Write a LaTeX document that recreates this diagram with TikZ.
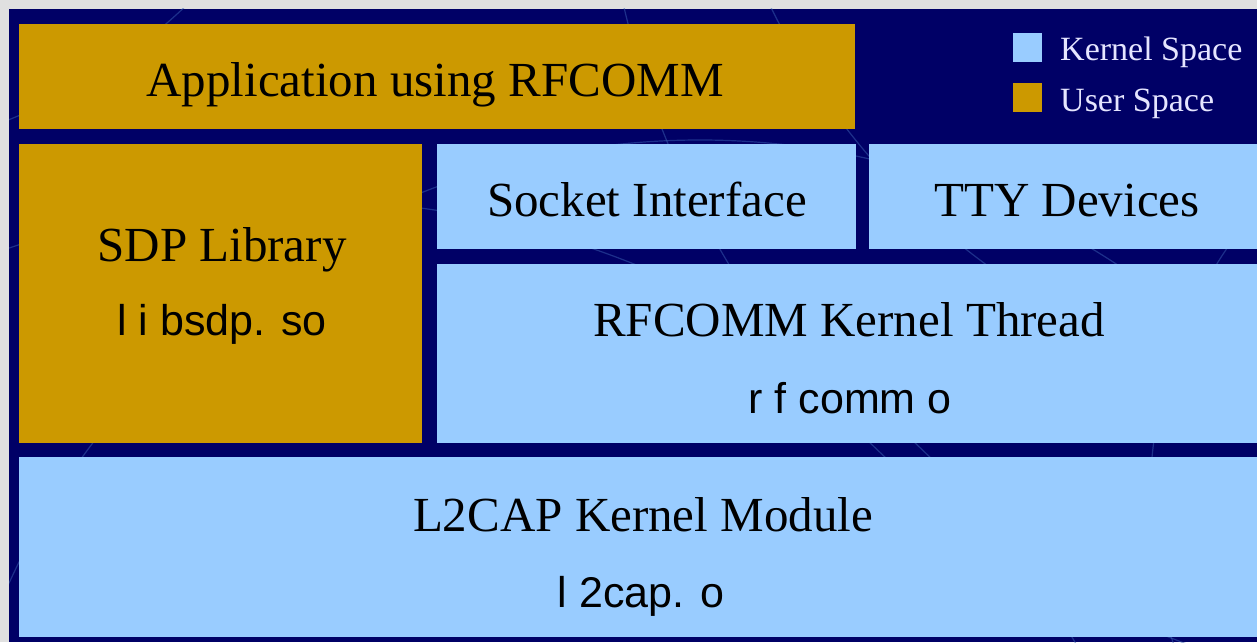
\documentclass[tikz,border=0pt]{standalone}
\usepackage{fontspec}
\setmainfont{Liberation Serif}
\newfontfamily\monof{Liberation Sans}
\definecolor{navy}{HTML}{000066}
\definecolor{gold}{HTML}{CC9900}
\definecolor{kblue}{HTML}{99CCFF}
\definecolor{pagegray}{HTML}{E0E0E0}
\definecolor{arcblue}{HTML}{3A5FB0}
\tikzset{
  layerbox/.style={inner sep=0pt, outer sep=0pt},
  userbox/.style={fill=gold},
  kernbox/.style={fill=kblue},
  title/.style={font=\fontsize{49}{58}\selectfont, text=black, anchor=base, inner sep=0pt},
  fname/.style={font=\monof\fontsize{43}{52}\selectfont, text=black, anchor=base, inner sep=0pt},
  legtext/.style={font=\fontsize{34}{40}\selectfont, text=white!90!blue, anchor=base west, inner sep=0pt},
  deco/.style={draw=arcblue, line width=1.2pt, opacity=0.5}
}
\begin{document}
\begin{tikzpicture}[x=1pt,y=-1pt]
\useasboundingbox (0,0) rectangle (1257,642);
\fill[pagegray] (0,0) rectangle (1257,642);
\fill[navy] (9,9) rectangle (1257,642);
\begin{scope}
\clip (9,9) rectangle (1257,642);
\draw[deco] (1400,-300) circle (700);
\draw[deco] (1500,-200) circle (900);
\draw[deco] (-200,-400) circle (560);
\draw[deco] (700,900) circle (760);
\draw[deco] (300,1100) circle (900);
\draw[deco] (1600,500) circle (450);
\end{scope}
% boxes
\path[userbox] (19,24) rectangle (855,129);
\node[layerbox] (app) at (437,76) {};
\path[userbox] (19,144) rectangle (422,443);
\node[layerbox] (sdp) at (220,293) {};
\path[kernbox] (437,144) rectangle (856,249);
\node[layerbox] (sock) at (646,196) {};
\path[kernbox] (869,144) rectangle (1257,249);
\node[layerbox] (tty) at (1063,196) {};
\path[kernbox] (437,264) rectangle (1257,443);
\node[layerbox] (rfc) at (847,353) {};
\path[kernbox] (19,457) rectangle (1257,637);
\node[layerbox] (l2) at (638,547) {};
% texts
\node[title] (appT) at (435,96) {Application using RFCOMM};
\node[title] (sdpT) at (222,261) {SDP Library};
\node[fname] (sdpF) at (222,335) {l i bsdp. so};
\node[title] (sockT) at (647,216) {Socket Interface};
\node[title] (ttyT) at (1067,216) {TTY Devices};
\node[title] (rfcT) at (849,336) {RFCOMM Kernel Thread};
\node[fname] (rfcF) at (850,413) {r f comm o};
\node[title] (l2T) at (643,531) {L2CAP Kernel Module};
\node[fname] (l2F) at (641,607) {l 2cap. o};
% legend
\fill[kblue] (1013,33) rectangle (1042,62);
\node[layerbox] (legK) at (1027,47) {};
\fill[gold] (1013,83) rectangle (1042,112);
\node[layerbox] (legU) at (1027,97) {};
\node[legtext] (legKT) at (1060,60) {Kernel Space};
\node[legtext] (legUT) at (1060,111) {User Space};
\end{tikzpicture}
\end{document}
